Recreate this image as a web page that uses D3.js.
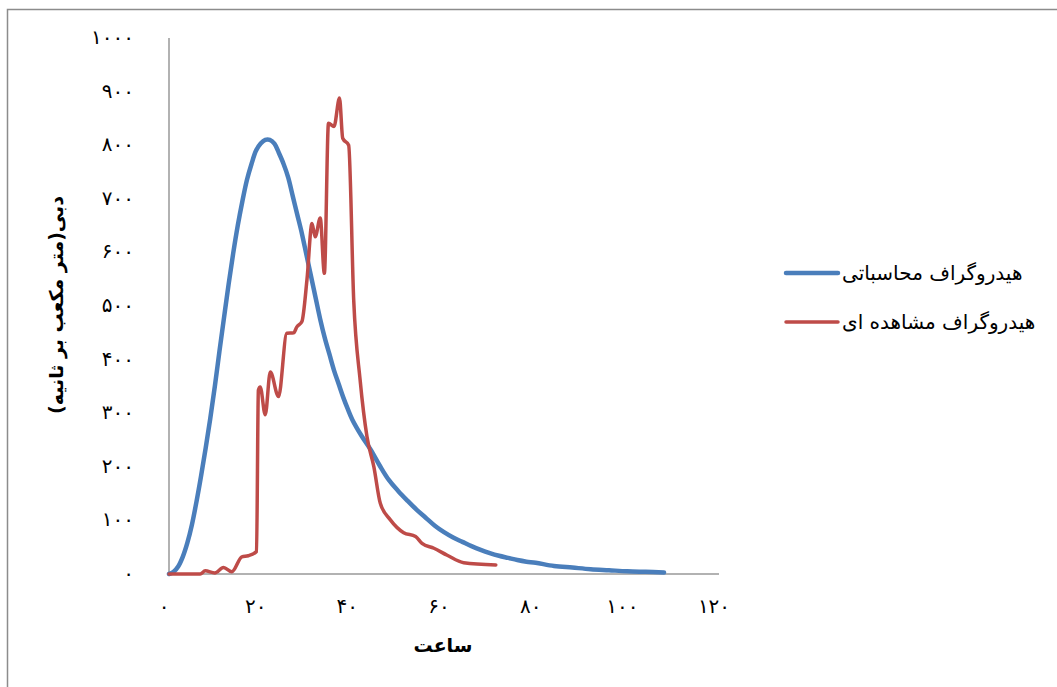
<!DOCTYPE html>
<html>
<head>
<meta charset="utf-8">
<script src="https://cdn.jsdelivr.net/npm/d3@7"></script>
<style>
  body { margin: 0; background: #fff; }
  svg { display: block; }
  text { font-family: "DejaVu Sans", sans-serif; fill: #000; }
</style>
</head>
<body>
<script>
// computed hydrograph (hours, m3/s)
const calcHours = [0,1,2,3,4,5,6,7,8,9,10,11,12,13,14,15,16,17,18,19,20,21,22,23,24,25,26,27,28,29,30,31,32,33,34,35,36,37,38,39,40,42,44,46,48,50,52,54,56,58,60,62,64,66,68,70,72,74,76,78,80,84,88,92,96,100,104,108];
const calcFlow = [0,4,14,32,58,92,135,183,235,290,350,415,478,540,598,650,695,735,765,790,803,810,810,803,785,765,740,705,670,635,595,555,515,475,440,410,380,355,330,308,288,258,232,202,175,155,137,120,105,90,78,68,60,52,45,39,34,30,26,23,21,15,12,9,7,5,4,3];

// observed hydrograph
const obsHours = [0,6.8,7.9,10,11.9,13.7,15.9,17.3,19.1,19.5,19.9,21,22.1,23.9,25.7,27.2,27.9,29,30.1,31.2,31.9,33,33.9,34.8,36,37.2,37.9,39.2,40.3,41.7,43.2,44.7,46.1,48.3,51.2,53.8,55.2,57.8,60.7,64.3,71.3];
const obsFlow = [0,0,6,2,12,4,32,34,42,343,349,297,377,331,449,450,461,471,549,654,629,664,561,841,835,888,813,800,511,362,256,200,132,101,77,70,57,48,35,21,17];

const seriesNames = ["هیدروگراف محاسباتی", "هیدروگراف مشاهده ای"];
const xTicks = [0,20,40,60,80,100,120];
const yTicks = [0,100,200,300,400,500,600,700,800,900,1000];
const xTitle = "ساعت";
const yTitle = "دبی(متر مکعب بر ثانیه)";

const W = 1057, H = 687;
const colors = ["#4a7ebb", "#be4b48"];

const toFa = n => String(n).replace(/\d/g, d => "۰۱۲۳۴۵۶۷۸۹"[d]);

const svg = d3.select("body").append("svg")
    .attr("width", W)
    .attr("height", H);

// outer frame
svg.append("rect")
    .attr("x", 7.5).attr("y", 9.5)
    .attr("width", W + 10).attr("height", H + 10)
    .attr("fill", "none")
    .attr("stroke", "#8c8c8c")
    .attr("stroke-width", 1.5);

const x = d3.scaleLinear().domain([0, 120]).range([169, 719]);
const y = d3.scaleLinear().domain([0, 1000]).range([574, 38]);

// axes lines
svg.append("line")
    .attr("x1", x(0)).attr("x2", x(0))
    .attr("y1", y(1000)).attr("y2", y(0))
    .attr("stroke", "#999").attr("stroke-width", 1.5);
svg.append("line")
    .attr("x1", x(0)).attr("x2", x(120))
    .attr("y1", y(0)).attr("y2", y(0))
    .attr("stroke", "#999").attr("stroke-width", 1.5);

// tick labels
svg.selectAll("text.ytick")
    .data(yTicks)
    .enter()
    .append("text")
    .attr("class", "ytick")
    .attr("x", 134)
    .attr("y", d => y(d) + 6)
    .attr("text-anchor", "end")
    .style("font-size", "20px")
    .style("letter-spacing", "2px")
    .text(d => toFa(d));

svg.selectAll("text.xtick")
    .data(xTicks)
    .enter()
    .append("text")
    .attr("class", "xtick")
    .attr("x", d => x(d) - 5)
    .attr("y", 613)
    .attr("text-anchor", "middle")
    .style("font-size", "20px")
    .style("letter-spacing", "2px")
    .text(d => toFa(d));

// axis titles
svg.append("text")
    .attr("x", 443).attr("y", 652)
    .attr("text-anchor", "middle")
    .style("font-size", "19px")
    .style("font-weight", "bold")
    .text(xTitle);

svg.append("text")
    .attr("transform", "translate(63,305) rotate(-90)")
    .attr("text-anchor", "middle")
    .style("font-size", "19px")
    .style("font-weight", "bold")
    .text(yTitle);

// lines
const calcData = calcHours.map((h, i) => [h, calcFlow[i]]);
const obsData = obsHours.map((h, i) => [h, obsFlow[i]]);

const calcLine = d3.line()
    .x(d => x(d[0]))
    .y(d => y(d[1]))
    .curve(d3.curveCatmullRom.alpha(0.5));

const obsLine = d3.line()
    .x(d => x(d[0]))
    .y(d => y(d[1]))
    .curve(d3.curveMonotoneX);

svg.append("path")
    .datum(calcData)
    .attr("d", calcLine)
    .attr("fill", "none")
    .attr("stroke", colors[0])
    .attr("stroke-width", 4.5)
    .attr("stroke-linecap", "round");

svg.append("path")
    .datum(obsData)
    .attr("d", obsLine)
    .attr("fill", "none")
    .attr("stroke", colors[1])
    .attr("stroke-width", 3.5)
    .attr("stroke-linecap", "round")
    .attr("stroke-linejoin", "round");

// legend
const legend = svg.selectAll("g.legend")
    .data(seriesNames)
    .enter()
    .append("g")
    .attr("class", "legend")
    .attr("transform", (d, i) => `translate(786, ${273 + i * 49})`);

legend.append("line")
    .attr("x1", 0).attr("x2", 52)
    .attr("y1", 0).attr("y2", 0)
    .attr("stroke", (d, i) => colors[i])
    .attr("stroke-width", (d, i) => i === 0 ? 4.5 : 3.5)
    .attr("stroke-linecap", "round");

legend.append("text")
    .attr("x", 56)
    .attr("y", 7)
    .style("font-size", "20px")
    .text(d => d);
</script>
</body>
</html>
